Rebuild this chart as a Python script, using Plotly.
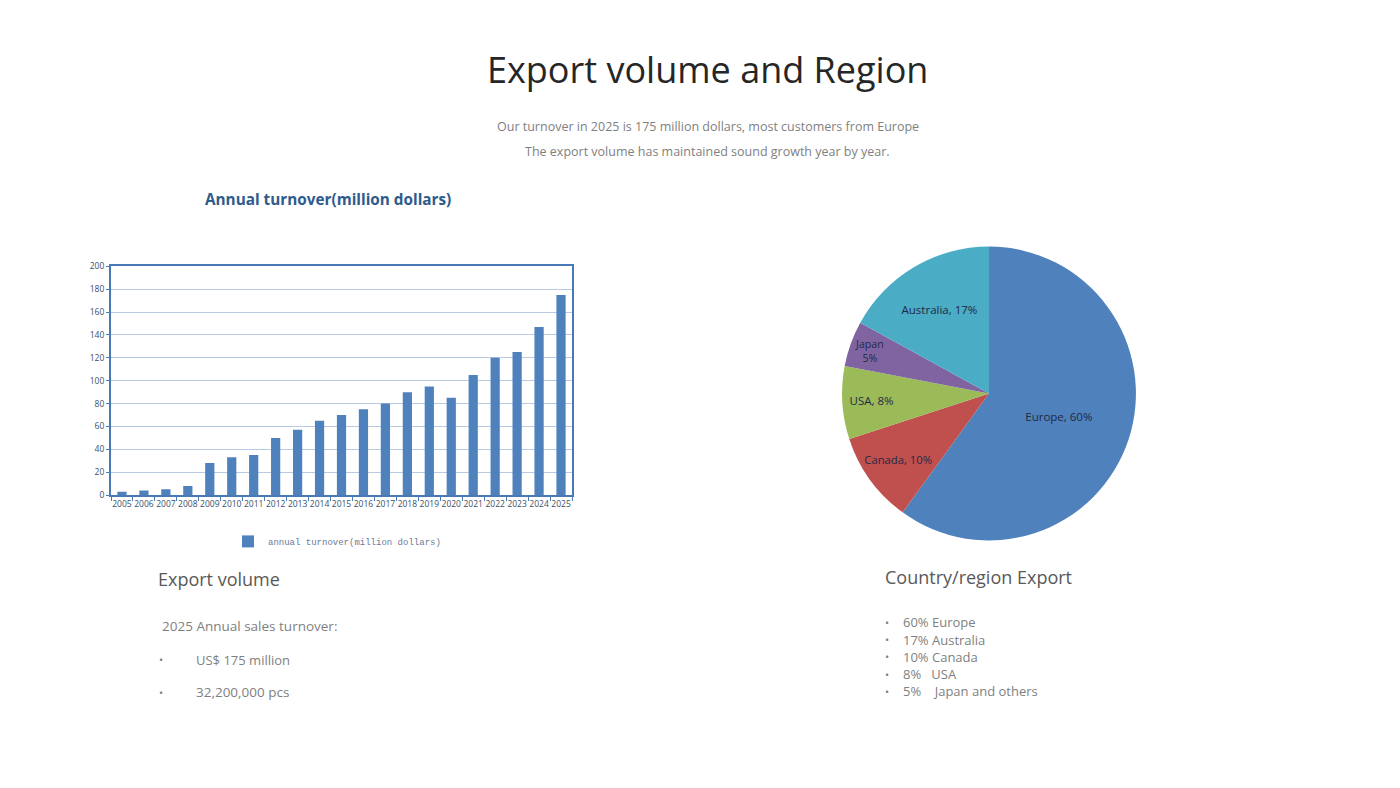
import plotly.graph_objects as go

years = [str(y) for y in range(2005, 2026)]
turnover = [3, 4, 5, 8, 28, 33, 35, 50, 57, 65, 70, 75, 80, 90, 95, 85, 105, 120, 125, 147, 175]

regions = ["Europe", "Canada", "USA", "Japan", "Australia"]
shares = [60, 10, 8, 5, 17]
pie_labels = ["Europe, 60%", "Canada, 10%", "USA, 8%", "Japan<br>5%", "Australia, 17%"]
pie_colors = ["#4f81bd", "#c0504d", "#9bbb59", "#8064a2", "#4bacc6"]

W, H = 1400, 788
def px(x): return x / W
def py(y): return 1 - y / H

fig = go.Figure()
fig.add_trace(go.Bar(
    x=years, y=turnover, name="annual turnover(million dollars)",
    marker=dict(color="#4f81bd", line=dict(width=0)),
    showlegend=True,
))
fig.add_trace(go.Pie(
    labels=regions, values=shares, text=pie_labels, textinfo="text",
    textposition="inside", insidetextorientation="horizontal",
    sort=False, direction="clockwise", rotation=0,
    marker=dict(colors=pie_colors, line=dict(color="white", width=0)),
    textfont=dict(family="Open Sans", size=11.5, color="#1f2a44"),
    domain=dict(x=[px(840), px(1138)], y=[py(542), py(244)]),
    showlegend=False, hoverinfo="label+percent",
))

fig.update_layout(
    width=W, height=H, margin=dict(l=0, r=0, t=0, b=0),
    paper_bgcolor="white", plot_bgcolor="white",
    bargap=0.58,
    font=dict(family="Open Sans", color="#3b4f6b"),
    xaxis=dict(domain=[px(111), px(572)], type="category",
               showline=True, mirror=True, linecolor="#4a7ab5", linewidth=2,
               ticks="outside", tickson="boundaries", ticklen=4, tickcolor="#4a7ab5",
               tickfont=dict(size=8.5, color="#3b4f6b", family="Open Sans"),
               showgrid=False, tickangle=0),
    yaxis=dict(domain=[py(496), py(264)], range=[0, 200], dtick=20,
               showline=True, mirror=True, linecolor="#4a7ab5", linewidth=2,
               ticks="outside", ticklen=3, tickcolor="#4a7ab5",
               gridcolor="#b9cbe2", gridwidth=1,
               tickfont=dict(size=8.5, color="#3b4f6b", family="Open Sans")),
    legend=dict(x=px(228), y=py(543), xanchor="left", yanchor="middle",
                font=dict(family="Liberation Mono", size=9, color="#6b7b99"),
                bgcolor="rgba(0,0,0,0)", itemwidth=30),
)

annos = [
    dict(text="Export volume and Region", x=px(708), y=py(64), size=36, color="#262626"),
    dict(text="Our turnover in 2025 is 175 million dollars, most customers from Europe", x=px(708), y=py(122), size=12.5, color="#7f7f7f"),
    dict(text="The export volume has maintained sound growth year by year.", x=px(708), y=py(148), size=12.5, color="#7f7f7f"),
    dict(text="<b>Annual turnover(million dollars)</b>", x=px(328), y=py(196), size=15.3, color="#2e5b8c"),
]
for a in annos:
    fig.add_annotation(text=a["text"], x=a["x"], y=a["y"], xref="paper", yref="paper",
                       xanchor="center", yanchor="middle", showarrow=False,
                       font=dict(family="Open Sans", size=a["size"], color=a["color"]))

left = [
    ("Export volume", 156, 581, 18, "#595959"),
    ("2025 Annual sales turnover:", 160, 629, 13.5, "#7f7f7f"),
    ("•", 157, 663, 11, "#7f7f7f"),
    ("US$ 175 million", 194, 663, 13, "#7f7f7f"),
    ("•", 157, 696, 11, "#7f7f7f"),
    ("32,200,000 pcs", 194, 696, 13.5, "#7f7f7f"),
    ("Country/region Export", 883, 579, 18, "#595959"),
]
for t, x, y, s, c in left:
    fig.add_annotation(text=t, x=px(x), y=py(y), xref="paper", yref="paper",
                       xanchor="left", yanchor="middle", showarrow=False,
                       font=dict(family="Open Sans", size=s, color=c))

bullets = ["60% Europe", "17% Australia", "10% Canada", "8%   USA", "5%    Japan and others"]
for i, b in enumerate(bullets):
    y = 625 + i * 17.5
    fig.add_annotation(text="•", x=px(883), y=py(y), xref="paper", yref="paper",
                       xanchor="left", yanchor="middle", showarrow=False,
                       font=dict(family="Open Sans", size=11, color="#7f7f7f"))
    fig.add_annotation(text=b.replace(" ", "&nbsp;"), x=px(901), y=py(y), xref="paper", yref="paper",
                       xanchor="left", yanchor="middle", showarrow=False,
                       font=dict(family="Open Sans", size=13, color="#7f7f7f"))

fig.write_html("out.html")
